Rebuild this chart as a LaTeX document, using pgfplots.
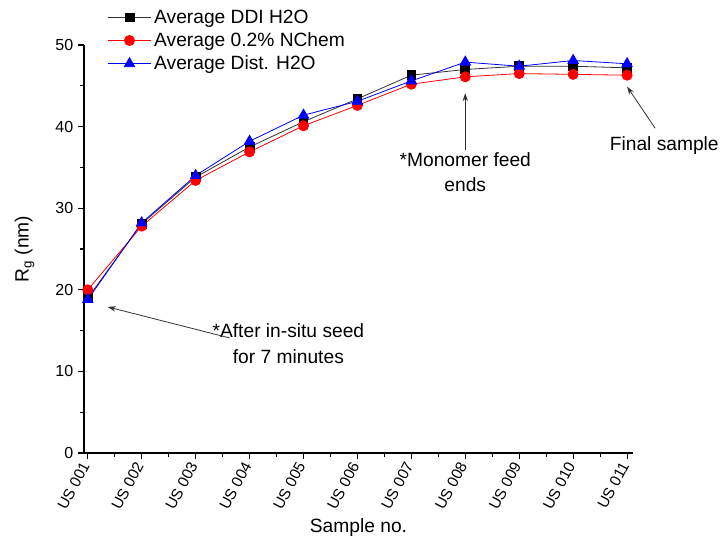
\documentclass[border=0pt]{standalone}
\usepackage{fontspec}
\setmainfont{Liberation Sans}
\usepackage{pgfplots}
\pgfplotsset{compat=1.18}
\usetikzlibrary{arrows.meta}

\begin{document}
\begin{tikzpicture}
\useasboundingbox (0,0) rectangle (540pt,405pt);
\begin{axis}[
  at={(63pt,65.25pt)}, anchor=south west,
  scale only axis, width=411.75pt, height=306pt,
  xmin=0.93, xmax=11.11, ymin=0, ymax=50,
  axis lines*=left, axis line style={line width=0.9pt},
  xtick={1,...,11},
  xticklabels={US 001,US 002,US 003,US 004,US 005,US 006,US 007,US 008,US 009,US 010,US 011},
  ytick={0,10,...,50},
  minor x tick num=1, minor y tick num=1,
  tick align=outside, tick style={line width=0.8pt, black},
  major tick length=4.5pt, minor tick length=3pt,
  /pgf/number format/assume math mode=true,
  x tick label style={rotate=62, anchor=east, font=\fontsize{11.5}{13}\selectfont},
  y tick label style={font=\fontsize{12}{14}\selectfont},
  label style={font=\fontsize{14.4}{17}\selectfont},
  xlabel={Sample no.}, ylabel={R\textsubscript{g} (nm)},
  xlabel style={yshift=2pt}, ylabel style={yshift=9pt},
  clip=false,
  legend style={draw=none, fill=none, at={(rel axis cs:0.035,1.1)}, anchor=north west,
    font=\fontsize{14.4}{16}\selectfont, row sep=1.5pt},
  legend cell align=left,
  legend image code/.code={\draw[mark repeat=2,mark phase=2] plot coordinates {(0cm,0cm)(0.57cm,0cm)(1.14cm,0cm)};},
]
\addplot[black!80, line width=0.6pt, mark=square*, mark size=3.3pt, mark options={solid, black}]
  coordinates {(1,19.0)(2,28.1)(3,33.8)(4,37.5)(5,40.6)(6,43.4)(7,46.3)(8,47.0)(9,47.4)(10,47.4)(11,47.2)};
\addlegendentry{Average DDI H2O}
\addplot[red, line width=0.6pt, mark=*, mark size=3.8pt]
  coordinates {(1,20.0)(2,27.8)(3,33.4)(4,36.9)(5,40.1)(6,42.6)(7,45.2)(8,46.1)(9,46.5)(10,46.4)(11,46.3)};
\addlegendentry{Average 0.2\% NChem}
\addplot[blue, line width=0.6pt, mark=triangle*, mark size=4.5pt]
  coordinates {(1,18.8)(2,28.2)(3,34.0)(4,38.2)(5,41.4)(6,43.1)(7,45.6)(8,47.9)(9,47.4)(10,48.1)(11,47.7)};
\addlegendentry{Average Dist. H2O}

\node[align=center, font=\fontsize{14.4}{19}\selectfont] at (axis cs:4.72,13.4) {*After in-situ seed\\for 7 minutes};
\node[align=center, font=\fontsize{14.4}{19}\selectfont] at (axis cs:8.0,34.4) {*Monomer feed\\ends};
\node[font=\fontsize{14.4}{19}\selectfont] at (axis cs:11.69,37.7) {Final sample};
\draw[-{Stealth[length=6pt,width=4pt]}, black!80, line width=0.6pt] (axis cs:3.63,14.1) -- (axis cs:1.37,17.9);
\draw[-{Stealth[length=6pt,width=4pt]}, black!80, line width=0.6pt] (axis cs:8.0,37.1) -- (axis cs:8.0,44.1);
\draw[-{Stealth[length=6pt,width=4pt]}, black!80, line width=0.6pt] (axis cs:11.52,39.8) -- (axis cs:11.0,44.9);
\end{axis}
\end{tikzpicture}
\end{document}
